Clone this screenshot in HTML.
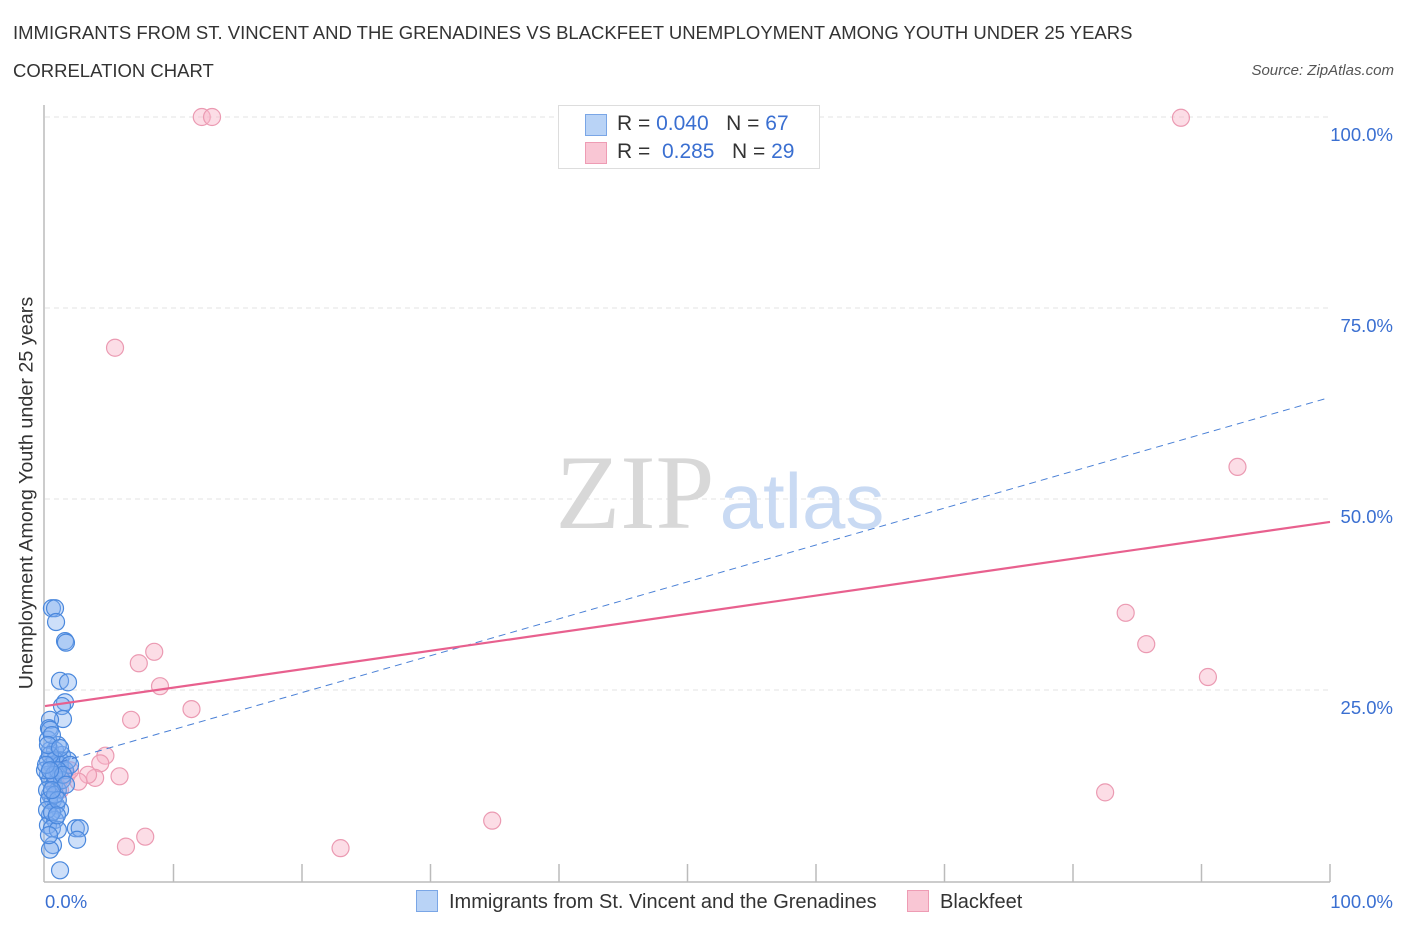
<!DOCTYPE html>
<html><head><meta charset="utf-8"><style>
body{margin:0;background:#fff;font-family:"Liberation Sans",sans-serif;}
#wrap{position:relative;width:1406px;height:930px;overflow:hidden;}
.t{position:absolute;white-space:nowrap;}
</style></head><body>
<div id="wrap">
<div class="t" style="left:13px;top:22px;font-size:18.5px;color:#333;">IMMIGRANTS FROM ST. VINCENT AND THE GRENADINES VS BLACKFEET UNEMPLOYMENT AMONG YOUTH UNDER 25 YEARS</div>
<div class="t" style="left:13px;top:60px;font-size:18.5px;color:#333;">CORRELATION CHART</div>
<div class="t" style="right:12px;top:62px;font-size:15px;color:#555;font-style:italic;">Source: ZipAtlas.com</div>
<svg id="svg" width="1406" height="930" style="position:absolute;left:0;top:0"></svg>
</div>
<script>
const blueX=[0.54,0.78,0.86,1.56,1.63,1.17,1.79,1.56,1.32,1.4,0.39,0.31,0.39,0.78,1.32,1.0,0.23,0.54,0.86,1.17,0.23,0.39,0.7,1.0,0.39,0.62,0.86,1.17,0.39,0.78,0.23,0.54,1.0,2.4,2.7,2.5,0.62,0.39,1.17,0.23,0.39,0.54,0.78,1.17,1.56,0,0.16,0.31,1.32,1.79,1.95,1.0,0.7,0.39,0.08,0.16,0.54,0.78,1.0,0.23,1.17,1.4,1.63,0.39,0.54,0.93,0.31];
const blueY=[35.7,35.7,33.9,31.4,31.2,26.2,26.0,23.4,22.9,21.2,21.1,20.0,17.1,17.1,16.5,17.8,15.8,15.2,14.5,15.8,13.9,13.2,12.6,11.9,11.3,10.6,9.9,9.3,8.6,8.0,7.3,6.9,6.7,6.9,6.9,5.4,4.7,4.1,1.4,18.5,19.8,19.1,15.8,15.2,14.5,14.5,11.9,10.6,13.2,15.8,15.2,14.5,13.9,16.5,15.2,9.3,9.0,11.3,10.6,17.8,17.4,13.9,12.6,14.5,11.9,8.6,6.0];
const pinkX=[12.2,13.0,88.4,5.45,92.8,84.1,85.7,90.5,8.5,7.3,8.95,11.4,6.7,4.7,4.3,5.8,3.9,3.35,1.7,2.6,1.3,0.86,1.17,82.5,34.8,7.8,6.3,23.0,1.95];
const pinkY=[100,100,99.9,69.8,54.2,35.1,31.0,26.7,30.0,28.5,25.5,22.5,21.1,16.4,15.4,13.7,13.5,13.9,13.9,13.0,14.5,12.6,11.9,11.6,7.9,5.8,4.5,4.3,14.5];
const yTicks=[25,50,75,100];
const yTickLabels=["25.0%","50.0%","75.0%","100.0%"];
const pinkTrend=[22.9,47.0];
const blueTrend=[15.0,63.3];
const X=v=>45+v*12.85, Y=v=>881-v*7.64;
const svg=document.getElementById('svg');
const NS='http://www.w3.org/2000/svg';
function mk(tag,attrs,parent){const e=document.createElementNS(NS,tag);for(const k in attrs)e.setAttribute(k,attrs[k]);(parent||svg).appendChild(e);return e;}
yTicks.forEach((v,i)=>{
 const g=mk('line',{x1:45,x2:1330,y1:Y(v),y2:Y(v),stroke:'#e3e3e3','stroke-dasharray':'5,4'});
 
 
 const t=mk('text',{x:1393,y:Y(v)+24,'text-anchor':'end','font-size':18.5,fill:'#3a6fd1','font-family':'Liberation Sans'});
 t.textContent=yTickLabels[i];
 
 
});
const w1=mk('text',{x:635,y:528,'text-anchor':'middle','font-size':106,fill:'#d8d8d8','font-family':'Liberation Serif'});w1.textContent='ZIP';


const w2=mk('text',{x:802,y:528,'text-anchor':'middle','font-size':78,fill:'#c9daf3','font-family':'Liberation Sans'});w2.textContent='atlas';


const ax=mk('line',{x1:44,x2:1330,y1:882,y2:882,stroke:'#bbb','stroke-width':1.5});


const ay=mk('line',{x1:44,x2:44,y1:105,y2:882,stroke:'#bbb','stroke-width':1.5});


for(let i=1;i<=10;i++){const tk=mk('line',{x1:X(i*10),x2:X(i*10),y1:864,y2:882,stroke:'#bbb','stroke-width':1.5});

}
function pts(xs,ys,fill,stroke,name){xs.forEach((x,i)=>{const c=mk('circle',{cx:X(x),cy:Y(ys[i]),r:8.5,fill:fill,stroke:stroke,'stroke-width':1.2});

});}
pts(pinkX,pinkY,'rgba(248,180,200,0.45)','#eb9ab2','blackfeet-point');
pts(blueX,blueY,'rgba(130,175,240,0.4)','#4a88dd','immigrants-point');
const bt=mk('line',{x1:X(1.2),y1:Y(blueTrend[0]+(blueTrend[1]-blueTrend[0])*0.012),x2:X(99.6),y2:Y(blueTrend[0]+(blueTrend[1]-blueTrend[0])*0.996),stroke:'#4a80d6','stroke-width':1,'stroke-dasharray':'7,5'});


const pt=mk('line',{x1:X(0),y1:Y(pinkTrend[0]),x2:X(100),y2:Y(pinkTrend[1]),stroke:'#e8608e','stroke-width':2.2});


</script>
<div class="t" style="left:27px;top:493px;font-size:19.8px;color:#333;transform:translate(-50%,-50%) rotate(-90deg);">Unemployment Among Youth under 25 years</div>
<div class="t" style="left:45px;top:891px;font-size:18.5px;color:#3a6fd1;">0.0%</div>
<div class="t" style="right:13px;top:891px;font-size:18.5px;color:#3a6fd1;">100.0%</div>
<div style="position:absolute;left:558px;top:105px;width:260px;height:62px;border:1px solid #ddd;background:#fff;font-size:21px;color:#333;">
 <div style="position:absolute;left:26px;top:8px;width:20px;height:20px;background:#b9d3f6;border:1px solid #7aa6e6;"></div>
 <div class="t" style="left:58px;top:6px;">R = <span style="color:#3a6fd1">0.040</span>&nbsp;&nbsp;&nbsp;N = <span style="color:#3a6fd1">67</span></div>
 <div style="position:absolute;left:26px;top:36px;width:20px;height:20px;background:#f9c6d4;border:1px solid #ee9cb4;"></div>
 <div class="t" style="left:58px;top:34px;">R = &nbsp;<span style="color:#3a6fd1">0.285</span>&nbsp;&nbsp;&nbsp;N = <span style="color:#3a6fd1">29</span></div>
</div>
<div style="position:absolute;left:416px;top:890px;font-size:20px;color:#333;">
 <div style="position:absolute;left:0;top:0;white-space:nowrap;"><span style="display:inline-block;width:20px;height:20px;background:#b9d3f6;border:1px solid #7aa6e6;vertical-align:-4px;margin-right:11px;"></span>Immigrants from St. Vincent and the Grenadines</div>
 <div style="position:absolute;left:491px;top:0;white-space:nowrap;"><span style="display:inline-block;width:20px;height:20px;background:#f9c6d4;border:1px solid #ee9cb4;vertical-align:-4px;margin-right:11px;"></span>Blackfeet</div>
</div>
</body></html>
